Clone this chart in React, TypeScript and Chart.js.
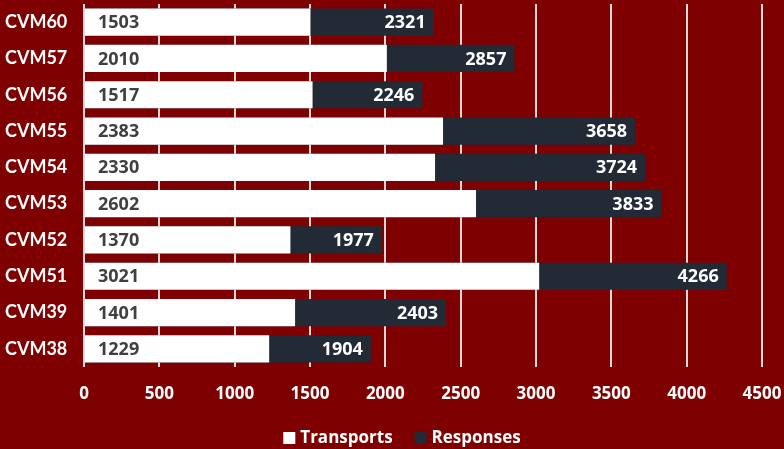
import React, { useEffect, useRef } from "react";
import { Chart, registerables } from "chart.js";

Chart.register(...registerables);

const categories = ["CVM60", "CVM57", "CVM56", "CVM55", "CVM54", "CVM53", "CVM52", "CVM51", "CVM39", "CVM38"];
const transports = [1503, 2010, 1517, 2383, 2330, 2602, 1370, 3021, 1401, 1229];
const responses = [2321, 2857, 2246, 3658, 3724, 3833, 1977, 4266, 2403, 1904];

const FONT = "'Open Sans', Lato, sans-serif";
const CAT_FONT = "Lato, 'Open Sans', sans-serif";
const BG = "#7f0000";

const labelPlugin = {
  id: "barLabels",
  afterDatasetsDraw(chart: any) {
    const ctx = chart.ctx;
    ctx.save();
    ctx.font = `bold 18px ${FONT}`;
    ctx.textBaseline = "middle";
    const m0 = chart.getDatasetMeta(0);
    const m1 = chart.getDatasetMeta(1);
    m1.data.forEach((el: any, i: number) => {
      ctx.fillStyle = "#ffffff";
      ctx.textAlign = "right";
      ctx.fillText(String(responses[i]), el.x - 8, el.y + 1);
    });
    m0.data.forEach((el: any, i: number) => {
      ctx.fillStyle = "#404040";
      ctx.textAlign = "left";
      ctx.fillText(String(transports[i]), el.base + 13, el.y + 1);
    });
    ctx.restore();
  },
};

const legendPlugin = {
  id: "customLegend",
  afterDraw(chart: any) {
    const ctx = chart.ctx;
    const ds = chart.data.datasets;
    ctx.save();
    ctx.font = `bold 17px ${FONT}`;
    ctx.textBaseline = "middle";
    ctx.textAlign = "left";
    const box = 12;
    const gapText = 5;
    const gapItem = 22;
    const widths = ds.map((d: any) => box + gapText + ctx.measureText(d.label).width);
    const total = widths.reduce((a: number, b: number) => a + b, 0) + gapItem * (ds.length - 1);
    const cx = 402;
    const cy = chart.height - 11;
    let x = cx - total / 2;
    ds.forEach((d: any, i: number) => {
      ctx.fillStyle = d.backgroundColor;
      ctx.fillRect(x, cy - box / 2, box, box);
      ctx.fillStyle = "#ffffff";
      ctx.fillText(d.label, x + box + gapText, cy);
      x += widths[i] + gapItem;
    });
    ctx.restore();
  },
};

export default function App() {
  const ref = useRef<HTMLCanvasElement>(null);
  useEffect(() => {
    document.body.style.margin = "0";
    const chart = new Chart(ref.current!, {
      type: "bar",
      data: {
        labels: categories,
        datasets: [
          { label: "Transports", data: transports, backgroundColor: "#ffffff", borderWidth: 0 },
          { label: "Responses", data: responses, backgroundColor: "#222a35", borderWidth: 0 },
        ],
      },
      options: {
        indexAxis: "y",
        animation: false,
        responsive: true,
        maintainAspectRatio: false,
        datasets: { bar: { categoryPercentage: 1, barPercentage: 0.75, grouped: false } as any },
        layout: { padding: { left: 5, right: 22, top: 4, bottom: 29 } },
        scales: {
          x: {
            min: 0,
            max: 4500,
            ticks: {
              stepSize: 500,
              color: "#ffffff",
              font: { family: FONT, size: 17, weight: "bold" },
              padding: 17,
              callback: (v: any) => String(v),
            },
            grid: { color: "#d9d9d9", lineWidth: 2, drawTicks: false },
            border: { display: false },
            afterFit: (s: any) => {
              s.height = 53;
              s.paddingLeft = 0;
              s.paddingRight = 0;
            },
          },
          y: {
            stacked: true,
            ticks: { color: "#ffffff", font: { family: CAT_FONT, size: 18, weight: "bold" }, crossAlign: "far", padding: 8 },
            grid: { display: false, drawTicks: false },
            border: { display: false },
            afterFit: (s: any) => {
              s.width = 79;
              s.paddingTop = 0;
              s.paddingBottom = 0;
            },
          },
        },
        plugins: {
          legend: { display: false },
          tooltip: { enabled: false },
        },
      },
      plugins: [labelPlugin, legendPlugin],
    });
    return () => chart.destroy();
  }, []);
  return (
    <div style={{ position: "fixed", left: 0, top: 0, width: 784, height: 449, background: BG }}>
      <canvas ref={ref} />
    </div>
  );
}
